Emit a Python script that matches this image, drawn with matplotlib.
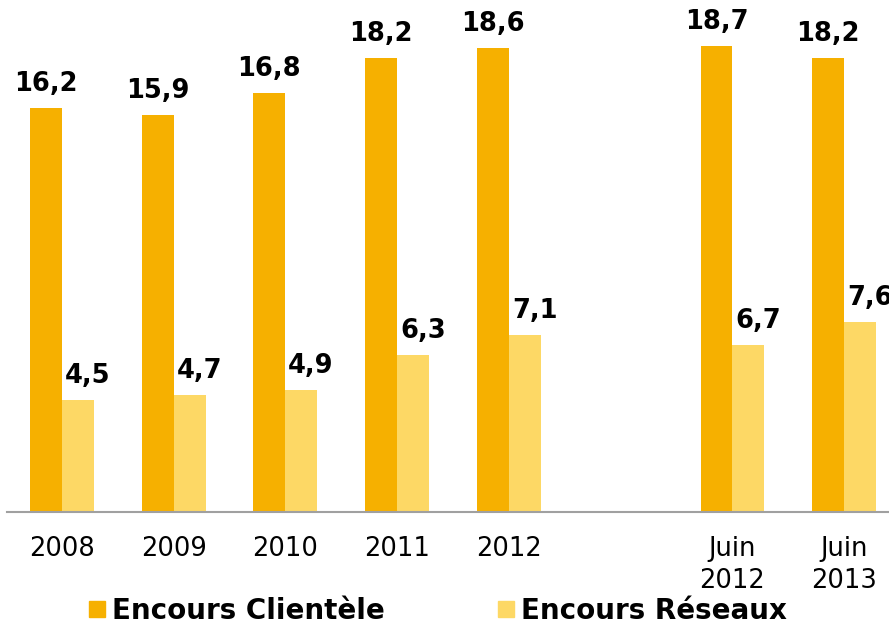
import matplotlib.pyplot as plt
import numpy as np
from matplotlib.lines import Line2D

# data
categories = ['2008', '2009', '2010', '2011', '2012', 'Juin\n2012', 'Juin\n2013']
positions = [0, 1, 2, 3, 4, 6, 7]
clientele = [16.2, 15.9, 16.8, 18.2, 18.6, 18.7, 18.2]
reseaux = [4.5, 4.7, 4.9, 6.3, 7.1, 6.7, 7.6]
series_names = ['Encours Clientèle', 'Encours Réseaux']

dark = '#F6B000'
light = '#FDD865'

plt.rcParams['font.family'] = 'DejaVu Sans'

fig = plt.figure(figsize=(8.89, 6.26), dpi=100)
ax = fig.add_axes([7 / 889, 1 - 512 / 626, 1 - 7 / 889, 512 / 626])

x = np.array(positions)
w = 0.286
ax.bar(x - w / 2, clientele, w, color=dark)
ax.bar(x + w / 2, reseaux, w, color=light)

for xi, v in zip(x, clientele):
    ax.annotate(f'{v:.1f}'.replace('.', ','), (xi - w / 2, v), xytext=(0, 8),
                textcoords='offset points', ha='center', va='bottom',
                fontsize=18.5, fontweight='bold')
for xi, v in zip(x, reseaux):
    ax.annotate(f'{v:.1f}'.replace('.', ','), (xi + w / 2, v), xytext=(7, 8),
                textcoords='offset points', ha='center', va='bottom',
                fontsize=18.5, fontweight='bold', annotation_clip=False)

ax.set_xlim(-0.49, 7.40)
ax.set_ylim(0, 20.53)
ax.set_xticks(positions)
ax.set_xticklabels(categories, fontsize=18.5, linespacing=1.3)
ax.tick_params(axis='x', length=0, pad=17)
ax.set_yticks([])
for s in ['top', 'left', 'right']:
    ax.spines[s].set_visible(False)
ax.spines['bottom'].set_color('#A0A0A0')
ax.spines['bottom'].set_linewidth(1.5)

handles = [Line2D([], [], marker='s', linestyle='', markersize=11, color=dark),
           Line2D([], [], marker='s', linestyle='', markersize=11, color=light)]
fig.legend(handles, series_names, loc='lower center', bbox_to_anchor=(0.493, -0.038),
           ncol=2, frameon=False, prop={'weight': 'bold', 'size': 20},
           handlelength=0.5, handletextpad=0.3, columnspacing=4.1)

plt.savefig('out.png', dpi=100)
